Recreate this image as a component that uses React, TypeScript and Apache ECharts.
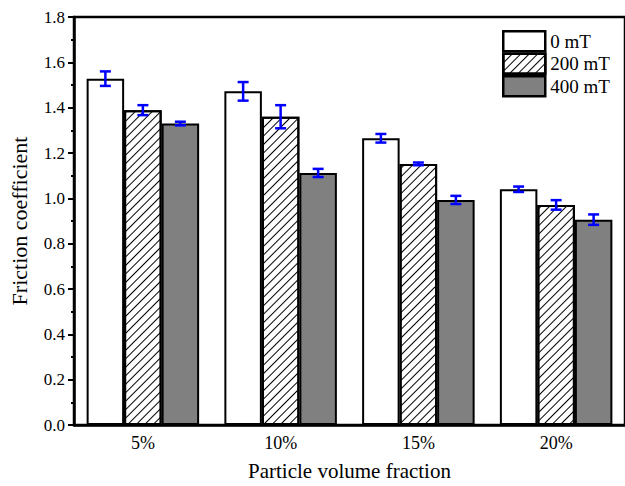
import React, { useEffect, useRef } from "react";
import * as echarts from "echarts";

const categories = ["5%", "10%", "15%", "20%"];
const seriesNames = ["0 mT", "200 mT", "400 mT"];
const values0 = [1.528, 1.472, 1.265, 1.04];
const values200 = [1.389, 1.36, 1.152, 0.971];
const values400 = [1.33, 1.112, 0.993, 0.906];
const err0 = [0.032, 0.041, 0.019, 0.012];
const err200 = [0.022, 0.051, 0.006, 0.021];
const err400 = [0.008, 0.018, 0.018, 0.023];
const yTicks = { min: 0, max: 1.8, interval: 0.2 };

const FONT = "Liberation Serif";
const BAR_W = 37.5;

export default function App() {
  const ref = useRef<HTMLDivElement>(null);

  useEffect(() => {
    if (!ref.current) return;
    const chart = echarts.init(ref.current, null, { renderer: "svg" });

    const valueSets = [values0, values200, values400];
    const errSets = [err0, err200, err400];

    const fills: any[] = [
      { color: "#ffffff" },
      {
        color: "#ffffff",
        decal: {
          symbol: "rect",
          symbolSize: 1,
          color: "#000000",
          backgroundColor: "#ffffff",
          dashArrayX: [1, 0],
          dashArrayY: [1, 5],
          rotation: -Math.PI / 4,
        },
      },
      { color: "#808080" },
    ];

    const barSeries = seriesNames.map((name, i) => ({
      name,
      type: "bar",
      xAxisIndex: 0,
      barWidth: BAR_W,
      barGap: "0%",
      data: valueSets[i],
      itemStyle: { ...fills[i], borderColor: "#000", borderWidth: 2 },
      z: 2,
    }));

    const errSeries = seriesNames.map((name, i) => ({
      name: name + " error",
      type: "custom",
      xAxisIndex: 0,
      z: 10,
      data: valueSets[i].map((v, k) => [k, v, errSets[i][k]]),
      renderItem: (params: any, api: any) => {
        const ci = api.value(0);
        const v = api.value(1);
        const e = api.value(2);
        const top = api.coord([ci, v + e]);
        const bot = api.coord([ci, v - e]);
        const x = top[0] + (i - 1) * BAR_W;
        const cap = 5.5;
        const style = { stroke: "#0000ff", lineWidth: 2.5 };
        return {
          type: "group",
          children: [
            { type: "line", shape: { x1: x, y1: top[1], x2: x, y2: bot[1] }, style },
            { type: "line", shape: { x1: x - cap, y1: top[1], x2: x + cap, y2: top[1] }, style },
            { type: "line", shape: { x1: x - cap, y1: bot[1], x2: x + cap, y2: bot[1] }, style },
          ],
        };
      },
    }));

    chart.setOption({
      animation: false,
      backgroundColor: "#ffffff",
      textStyle: { fontFamily: FONT },
      grid: {
        left: 70,
        top: 17,
        right: -2,
        bottom: 59,
        show: true,
        borderColor: "#000",
        borderWidth: 2.5,
        backgroundColor: "transparent",
      },
      legend: {
        data: seriesNames,
        orient: "vertical",
        left: 502,
        top: 30,
        itemWidth: 42,
        itemHeight: 20,
        itemGap: 0,
        icon: "rect",
        itemStyle: { borderColor: "#000", borderWidth: 2.5 },
        textStyle: { fontFamily: FONT, fontSize: 19, color: "#000" },
        padding: 0,
      },
      xAxis: [
        {
          type: "category",
          data: categories,
          position: "bottom",
          name: "Particle volume fraction",
          nameLocation: "middle",
          nameGap: 35,
          nameTextStyle: { fontFamily: FONT, fontSize: 21, color: "#000" },
          axisLine: { lineStyle: { color: "#000", width: 2.5 } },
          axisTick: { alignWithLabel: true, length: 6, lineStyle: { color: "#000", width: 2 } },
          axisLabel: { fontFamily: FONT, fontSize: 18, color: "#000", margin: 9 },
        },
        {
          type: "category",
          data: categories,
          position: "bottom",
          axisLine: { show: false },
          axisTick: { length: 3, lineStyle: { color: "#000", width: 2 } },
          axisLabel: { show: false },
        },
      ],
      yAxis: {
        type: "value",
        min: yTicks.min,
        max: yTicks.max,
        interval: yTicks.interval,
        name: "Friction coefficient",
        nameLocation: "middle",
        nameGap: 44,
        nameTextStyle: { fontFamily: FONT, fontSize: 22, color: "#000" },
        axisLine: { show: true, lineStyle: { color: "#000", width: 2.5 } },
        axisTick: { show: true, length: 6, lineStyle: { color: "#000", width: 2 } },
        minorTick: { show: true, splitNumber: 2, length: 3, lineStyle: { color: "#000", width: 2 } },
        splitLine: { show: false },
        axisLabel: {
          fontFamily: FONT,
          fontSize: 17,
          color: "#000",
          margin: 9,
          formatter: (v: number) => v.toFixed(1),
        },
      },
      series: [...barSeries, ...errSeries],
    });

    return () => chart.dispose();
  }, []);

  return (
    <div
      ref={ref}
      style={{ position: "fixed", left: 0, top: 0, width: 625, height: 486, background: "#fff" }}
    />
  );
}
